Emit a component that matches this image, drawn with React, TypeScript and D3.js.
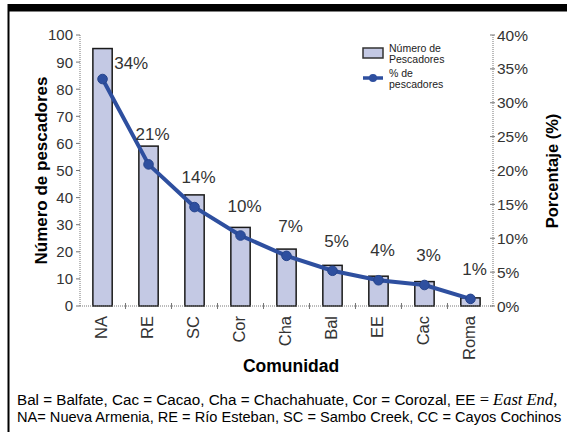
import { useRef, useEffect } from 'react';
import * as d3 from 'd3';

const communities = ['NA', 'RE', 'SC', 'Cor', 'Cha', 'Bal', 'EE', 'Cac', 'Roma'];
const fishers = [95, 59, 41, 29, 21, 15, 11, 9, 3];
const percentages = [33.5, 20.9, 14.6, 10.4, 7.4, 5.2, 3.8, 3.1, 1.05];
const percentLabels = ['34%', '21%', '14%', '10%', '7%', '5%', '4%', '3%', '1%'];
const leftTicks = [0, 10, 20, 30, 40, 50, 60, 70, 80, 90, 100];
const rightTicks = [0, 5, 10, 15, 20, 25, 30, 35, 40];

const SANS = '"Liberation Sans", Arial, Helvetica, sans-serif';
const SERIF = '"Liberation Serif", "Times New Roman", serif';
const BAR_FILL = '#c4c9e4';
const LINE_COLOR = '#2e4f9f';

export default function App() {
  const svgRef = useRef<SVGSVGElement>(null);

  useEffect(() => {
    if (!svgRef.current) return;
    const svg = d3.select(svgRef.current);
    svg.selectAll('*').remove();

    const width = 567;
    const height = 432;
    const plot = { left: 80, right: 493, top: 35, bottom: 306 };

    svg.attr('width', width).attr('height', height);
    svg.append('rect').attr('width', width).attr('height', height).attr('fill', '#fff');

    // frame: thick top bar and thin left rule
    svg.append('rect').attr('x', 8).attr('y', 4).attr('width', width - 8).attr('height', 7.5).attr('fill', '#000');
    svg.append('rect').attr('x', 7.5).attr('y', 4).attr('width', 2).attr('height', height - 4).attr('fill', '#000');

    const x = d3
      .scaleBand<string>()
      .domain(communities)
      .range([plot.left, plot.right])
      .paddingInner(0.58)
      .paddingOuter(0.28);
    const yLeft = d3.scaleLinear().domain([0, 100]).range([plot.bottom, plot.top]);
    const yRight = d3.scaleLinear().domain([0, 40]).range([plot.bottom, plot.top]);
    const cx = (c: string) => (x(c) ?? 0) + x.bandwidth() / 2;

    const axisStyle = (sel: d3.Selection<SVGLineElement, unknown, null, undefined>) =>
      sel.attr('stroke', '#777').attr('stroke-width', 1).attr('stroke-dasharray', '1,1');

    // bars
    svg
      .append('g')
      .selectAll('rect')
      .data(fishers)
      .join('rect')
      .attr('x', (_d, i) => x(communities[i]) ?? 0)
      .attr('y', (d) => yLeft(d))
      .attr('width', x.bandwidth())
      .attr('height', (d) => plot.bottom - yLeft(d))
      .attr('fill', BAR_FILL)
      .attr('stroke', '#1a1a1a')
      .attr('stroke-width', 1.5);

    // left axis
    svg.append('line').attr('x1', plot.left).attr('x2', plot.left).attr('y1', plot.top).attr('y2', plot.bottom).call(axisStyle);
    leftTicks.forEach((t) => {
      svg.append('line').attr('x1', plot.left - 4).attr('x2', plot.left).attr('y1', yLeft(t)).attr('y2', yLeft(t)).attr('stroke', '#777');
      svg
        .append('text')
        .attr('x', plot.left - 7)
        .attr('y', yLeft(t))
        .attr('dy', '0.36em')
        .attr('text-anchor', 'end')
        .attr('font-family', SANS)
        .attr('font-size', 15)
        .attr('fill', '#333')
        .text(t);
    });

    // right axis
    svg.append('line').attr('x1', plot.right).attr('x2', plot.right).attr('y1', plot.top).attr('y2', plot.bottom).call(axisStyle);
    rightTicks.forEach((t) => {
      svg.append('line').attr('x1', plot.right - 3).attr('x2', plot.right + 2).attr('y1', yRight(t)).attr('y2', yRight(t)).attr('stroke', '#777');
      svg
        .append('text')
        .attr('x', plot.right + 4)
        .attr('y', yRight(t))
        .attr('dy', '0.36em')
        .attr('font-family', SANS)
        .attr('font-size', 15.5)
        .attr('fill', '#333')
        .text(`${t}%`);
    });

    // bottom axis
    svg.append('line').attr('x1', plot.left).attr('x2', plot.right).attr('y1', plot.bottom).attr('y2', plot.bottom).call(axisStyle);
    communities.slice(0, -1).forEach((c) => {
      const tx = cx(c) + x.step() / 2;
      svg.append('line').attr('x1', tx).attr('x2', tx).attr('y1', plot.bottom - 3).attr('y2', plot.bottom + 3).attr('stroke', '#777');
    });
    communities.forEach((c) => {
      svg
        .append('text')
        .attr('transform', `translate(${cx(c)},${plot.bottom + 10}) rotate(-90)`)
        .attr('dy', '0.3em')
        .attr('text-anchor', 'end')
        .attr('font-family', SANS)
        .attr('font-size', 16.5)
        .attr('fill', '#333')
        .text(c);
    });

    // percentage line
    const line = d3
      .line<number>()
      .x((_d, i) => cx(communities[i]))
      .y((d) => yRight(d));
    svg
      .append('path')
      .datum(percentages)
      .attr('d', line)
      .attr('fill', 'none')
      .attr('stroke', LINE_COLOR)
      .attr('stroke-width', 4)
      .attr('stroke-linejoin', 'round');
    svg
      .append('g')
      .selectAll('circle')
      .data(percentages)
      .join('circle')
      .attr('cx', (_d, i) => cx(communities[i]))
      .attr('cy', (d) => yRight(d))
      .attr('r', 4.8)
      .attr('fill', LINE_COLOR)
      .attr('stroke', '#27458c')
      .attr('stroke-width', 1);

    // percentage labels
    percentages.forEach((p, i) => {
      const first = i === 0;
      svg
        .append('text')
        .attr('x', first ? (x(communities[i]) ?? 0) + x.bandwidth() + 2 : cx(communities[i]) + 4)
        .attr('y', yRight(p) - (first ? 10 : 24))
        .attr('text-anchor', first ? 'start' : 'middle')
        .attr('font-family', SANS)
        .attr('font-size', 17)
        .attr('fill', '#333')
        .text(percentLabels[i]);
    });

    // axis titles
    svg
      .append('text')
      .attr('transform', `translate(47,${(plot.top + plot.bottom) / 2}) rotate(-90)`)
      .attr('text-anchor', 'middle')
      .attr('font-family', SANS)
      .attr('font-weight', 'bold')
      .attr('font-size', 17)
      .text('Número de pescadores');
    svg
      .append('text')
      .attr('transform', `translate(558,171) rotate(-90)`)
      .attr('text-anchor', 'middle')
      .attr('font-family', SANS)
      .attr('font-weight', 'bold')
      .attr('font-size', 16.5)
      .text('Porcentaje (%)');
    svg
      .append('text')
      .attr('x', 291)
      .attr('y', 372)
      .attr('text-anchor', 'middle')
      .attr('font-family', SANS)
      .attr('font-weight', 'bold')
      .attr('font-size', 17.5)
      .text('Comunidad');

    // legend
    const lg = svg.append('g').attr('font-family', SANS).attr('font-size', 10.5).attr('fill', '#222');
    lg.append('rect').attr('x', 363).attr('y', 48).attr('width', 20).attr('height', 10).attr('fill', BAR_FILL).attr('stroke', '#333').attr('stroke-width', 1.5);
    lg.append('text').attr('x', 389).attr('y', 52).text('Número de');
    lg.append('text').attr('x', 389).attr('y', 62.5).text('Pescadores');
    lg.append('line').attr('x1', 363).attr('x2', 383).attr('y1', 78).attr('y2', 78).attr('stroke', LINE_COLOR).attr('stroke-width', 3.5);
    lg.append('circle').attr('cx', 373).attr('cy', 78).attr('r', 4).attr('fill', LINE_COLOR);
    lg.append('text').attr('x', 389).attr('y', 77).text('% de');
    lg.append('text').attr('x', 389).attr('y', 88).text('pescadores');

    // footnote
    const fn = svg.append('g').attr('font-family', SANS).attr('font-size', 15.2).attr('fill', '#000');
    const l1 = fn.append('text').attr('x', 17).attr('y', 405);
    l1.append('tspan').text('Bal = Balfate, Cac = Cacao, Cha = Chachahuate, Cor = Corozal, EE ');
    l1.append('tspan').attr('font-family', SERIF).attr('font-size', 16.5).text('= ');
    l1.append('tspan').attr('font-family', SERIF).attr('font-style', 'italic').attr('font-size', 16.5).text('East End');
    l1.append('tspan').attr('font-family', SERIF).attr('font-size', 16.5).text(',');
    fn.append('text')
      .attr('x', 17)
      .attr('y', 422)
      .attr('font-size', 14.6)
      .text('NA= Nueva Armenia, RE = Río Esteban, SC = Sambo Creek, CC = Cayos Cochinos');
  }, []);

  return (
    <div style={{ position: 'absolute', left: 0, top: 0 }}>
      <svg ref={svgRef} style={{ display: 'block' }} />
    </div>
  );
}
